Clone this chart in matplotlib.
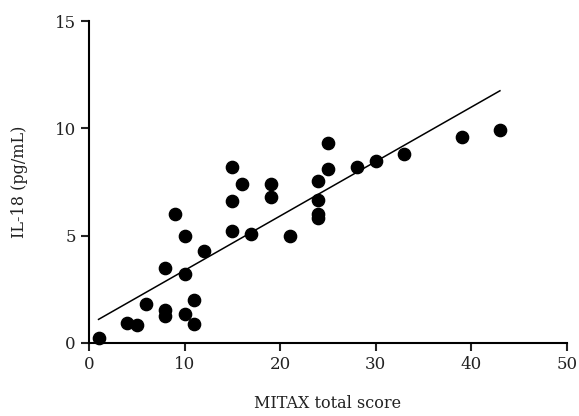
import matplotlib
matplotlib.use("Agg")
from matplotlib import pyplot as plt

# MITAX total score vs IL-18
mitax = [1, 4, 5, 6, 8, 8, 8, 9, 10, 10, 10, 11, 11, 12,
         15, 15, 15, 16, 17, 19, 19, 21, 24, 24, 24, 24,
         25, 25, 28, 30, 33, 39, 43]
il18 = [0.25, 0.95, 0.85, 1.8, 3.5, 1.55, 1.25, 6.0, 5.0, 3.2, 1.35, 2.0, 0.9, 4.3,
        8.2, 6.6, 5.2, 7.4, 5.1, 7.4, 6.8, 5.0, 7.55, 6.65, 6.0, 5.8,
        9.3, 8.1, 8.2, 8.5, 8.8, 9.6, 9.9]

# regression line ends
line_x = [1, 43]
line_y = [1.1, 11.75]

x_ticks = [0, 10, 20, 30, 40, 50]
y_ticks = [0, 5, 10, 15]

plt.rcParams['font.family'] = 'DejaVu Serif'

fig = plt.figure(figsize=(5.79, 4.16), dpi=100)
ax = fig.add_axes([0.1537, 0.1755, 0.8253, 0.774])

ax.scatter(mitax, il18, s=78, color='black', zorder=3, clip_on=False)
ax.plot(line_x, line_y, color='black', linewidth=1.1)

ax.set_xlim(0, 50)
ax.set_ylim(0, 15)
ax.set_xticks(x_ticks)
ax.set_yticks(y_ticks)
ax.spines['top'].set_visible(False)
ax.spines['right'].set_visible(False)
ax.spines['left'].set_linewidth(1.5)
ax.spines['bottom'].set_linewidth(1.5)
ax.tick_params(direction='out', length=6, width=1.5, labelsize=12, colors='#222222')

ax.set_xlabel('MITAX total score', fontsize=11.5, labelpad=16, color='#222222')
ax.set_ylabel('IL-18 (pg/mL)', fontsize=11.5, labelpad=19, color='#222222')

fig.savefig('out.png', dpi=100)
